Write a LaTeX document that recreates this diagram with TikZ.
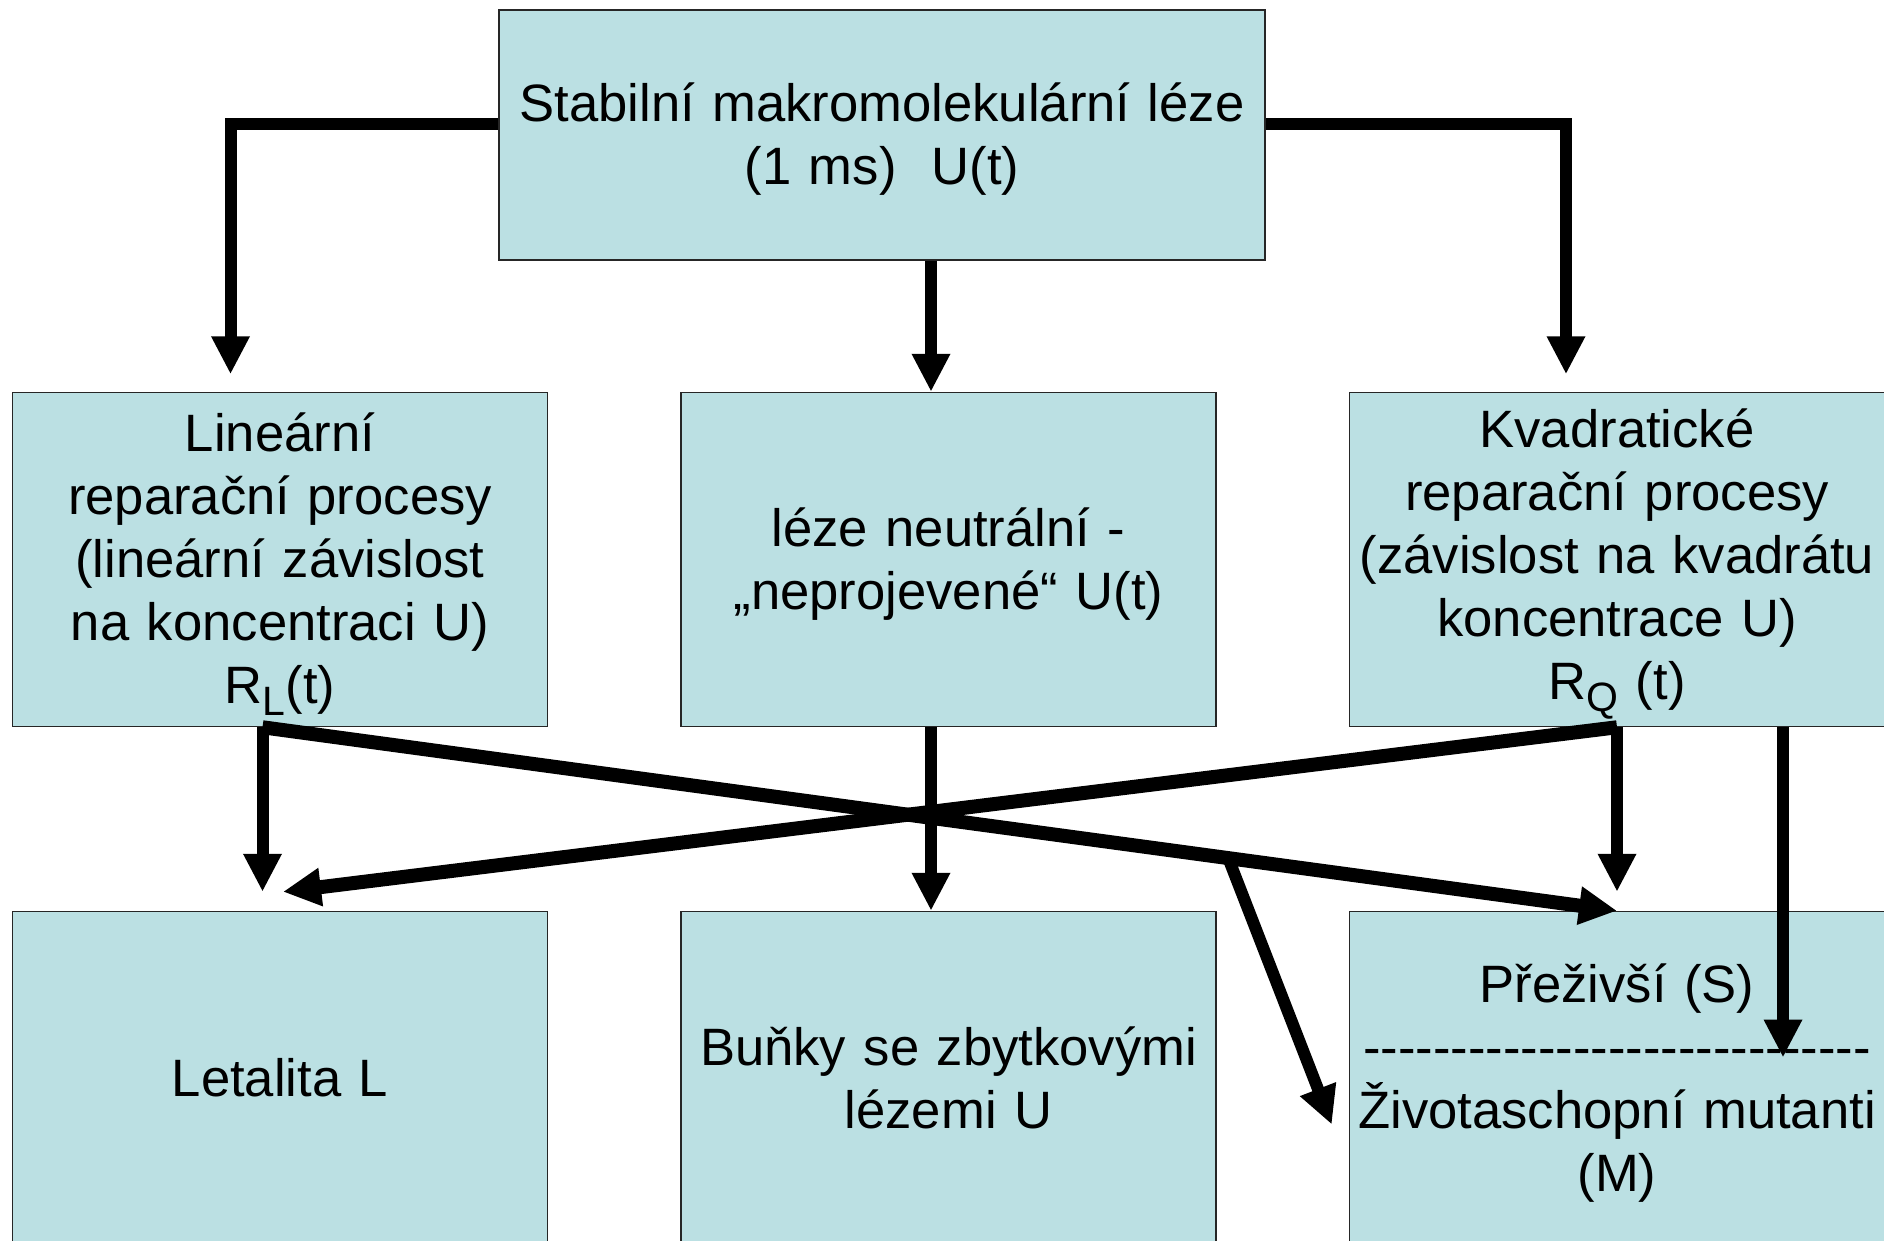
\documentclass[tikz,border=0pt]{standalone}
\usepackage{fontspec}
\setmainfont{Liberation Sans}
\usetikzlibrary{arrows.meta,positioning}
\definecolor{boxfill}{HTML}{BBE0E3}
\newcommand\sub[1]{\raisebox{-12pt}{\fontsize{41}{41}\selectfont #1}}
\newcommand\dashrow{\foreach \i in {1,...,29}{-\kern0pt}}
\newcommand\linestrut{\rule[-0.212em]{0pt}{1.117em}}

\begin{document}
\begin{tikzpicture}[x=1pt,y=-1pt,>={Triangle[length=38pt,width=36pt]},
box/.style={draw=black!85,line width=1.5pt,fill=boxfill,inner sep=0pt,minimum height=334pt,text width=535pt,align=center,font=\fontsize{52.6}{63}\selectfont,
  execute at begin node=\linestrut,execute at end node=\linestrut},
conn/.style={line width=12pt,->},
cross/.style={line width=14pt,->}]
\useasboundingbox (0,0) rectangle (1884,1240);
\node[box,text width=766pt,minimum height=250pt] (stab) at (882,135) {Stabilní makromolekulární léze\\(1 ms)\ \ U(t)};
\node[box] (neutral) at (948.5,559.5) {léze neutrální -\\„neprojevené“ U(t)};
\node[box,left=132pt of neutral] (linear) {Lineární\\reparační procesy\\(lineární závislost\\na koncentraci U)\\R\sub{L}(t)};
\node[box,right=132pt of neutral] (quad) {Kvadratické\\reparační procesy\\(závislost na kvadrátu\\koncentrace U)\\R\sub{Q} (t)};
\node[box,below=183.5pt of linear] (lethal) {Letalita L};
\node[box,below=183.5pt of neutral] (resid) {Buňky se zbytkovými\\lézemi U};
\node[box,below=183.5pt of quad] (surv) {Přeživší (S)\\\dashrow\\Životaschopní mutanti\\(M)};
% from the top box
\draw[conn] ([yshift=11pt]stab.west) -| ([xshift=-49.5pt,yshift=17.5pt]linear.north);
\draw[conn] ([yshift=11pt]stab.east) -| ([xshift=-51pt,yshift=17.5pt]quad.north);
\draw[conn] ([xshift=49pt]stab.south) -- ([xshift=49pt]stab.south |- neutral.north);
% to the bottom row
\coordinate (RL) at ([xshift=-17.5pt]linear.south);
\draw[conn] (RL) -- ([xshift=-17.5pt,yshift=19pt]lethal.north);
\draw[cross] (RL) -- coordinate[pos=.713] (fork) (surv.north);
\draw[cross] (quad.south) -- ([xshift=3pt,yshift=19pt]lethal.north);
\draw[conn] (quad.south) -- ([yshift=19pt]surv.north);
\draw[conn] ([xshift=-17.5pt]neutral.south) -- ([xshift=-17.5pt]resid.north);
\draw[conn] ([xshift=166pt]quad.south) -- ([xshift=166pt,yshift=21pt]surv.center);
\draw[conn] (fork) -- ([xshift=-17pt,yshift=-46pt]surv.west);
\end{tikzpicture}
\end{document}
